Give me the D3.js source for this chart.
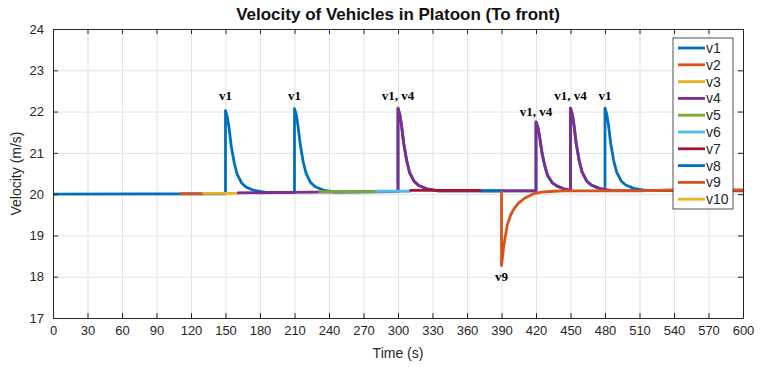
<!DOCTYPE html>
<html>
<head>
<meta charset="utf-8">
<script src="https://cdn.jsdelivr.net/npm/d3@7"></script>
<style>
  body { margin: 0; background: #fff; }
  text { font-family: "Liberation Sans", Arial, sans-serif; }
</style>
</head>
<body>
<div id="chart"></div>
<script>

// vehicles and their colours (matlab default order)
const names = ["v1", "v2", "v3", "v4", "v5", "v6", "v7", "v8", "v9", "v10"];
const colors = ["#0072BD", "#D95319", "#EDB120", "#7E2F8E", "#77AC30",
                "#4DBEEE", "#A2142F", "#0072BD", "#D95319", "#EDB120"];

// [time, velocity]
const v1 = [[0,20.0],[150,20.01],[150,22.02],[151.5,21.88],[153,21.62],[155,21.16],[157.5,20.77],[160,20.49],
  [164,20.27],[168,20.17],[175,20.09],[185,20.04],[210,20.04],[210,22.07],[211.5,21.93],[213,21.66],[215,21.2],
  [217.5,20.79],[220,20.51],[224,20.28],[228,20.18],[235,20.1],[245,20.05],[300,20.06],[300,22.08],[301.5,21.94],
  [303,21.68],[305,21.22],[307.5,20.82],[310,20.53],[314,20.31],[318,20.21],[325,20.13],[335,20.08],[420,20.08],
  [420,21.75],[421.5,21.63],[423,21.42],[425,21.03],[427.5,20.7],[430,20.46],[434,20.28],[438,20.2],[445,20.12],
  [450,20.09],[450,22.08],[451.5,21.94],[453,21.68],[455,21.22],[457.5,20.82],[460,20.54],[464,20.32],[468,20.22],
  [475,20.14],[480,20.1],[480,22.08],[481.5,21.94],[483,21.68],[485,21.22],[487.5,20.82],[490,20.54],[494,20.32],
  [498,20.22],[505,20.14],[515,20.09],[600,20.09]];
const v2 = [[110,20.01],[131,20.01]];
const v3 = [[130,20.02],[160,20.02]];
const v4 = [[160,20.03],[231,20.05],[300,20.06],[300,22.08],[301.5,21.94],[303,21.68],[305,21.22],[307.5,20.82],
  [310,20.53],[314,20.31],[318,20.21],[325,20.13],[335,20.08],[420,20.08],[420,21.75],[421.5,21.63],[423,21.42],
  [425,21.03],[427.5,20.7],[430,20.46],[434,20.28],[438,20.2],[445,20.12],[450,20.09],[450,22.08],[451.5,21.94],
  [453,21.68],[455,21.22],[457.5,20.82],[460,20.54],[464,20.32],[468,20.22],[475,20.14],[485,20.09],[600,20.08]];
const v5 = [[231,20.06],[281,20.06]];
const v6 = [[280,20.07],[311,20.07]];
const v7 = [[310,20.09],[372,20.09]];
const v8 = [[372,20.08],[391,20.08]];
const v9 = [[390,20.08],[390,18.27],[392,18.75],[395,19.25],[398,19.5],[401,19.65],[405,19.79],[410,19.9],
  [418,20.01],[425,20.05],[435,20.07],[445,20.08],[510,20.08],[540,20.1],[600,20.1]];
const v10 = [];
const series = [v1, v2, v3, v4, v5, v6, v7, v8, v9, v10];

// peak annotations [time, velocity, text]
const notes = [[150,22.28,"v1"],[210,22.28,"v1"],[300,22.28,"v1, v4"],[420,21.9,"v1, v4"],
  [450,22.28,"v1, v4"],[480,22.28,"v1"],[390,17.9,"v9"]];

const xTicks = d3.range(0, 601, 30);
const yTicks = [17, 18, 19, 20, 21, 22, 23, 24];

const width = 760;
const height = 367;
const mLeft = 53, mRight = 743, mTop = 29, mBottom = 318;

let svg = d3.select("#chart")
    .append("svg")
    .attr("width", width)
    .attr("height", height);

let x = d3.scaleLinear().domain([0, 600]).range([mLeft, mRight]);
let y = d3.scaleLinear().domain([17, 24]).range([mBottom, mTop]);

// grid
svg.append("g")
    .attr("transform", "translate(0," + mBottom + ")")
    .call(d3.axisBottom(x).tickValues(xTicks).tickSize(-(mBottom - mTop)).tickFormat(""))
    .call(g => g.select(".domain").remove())
    .call(g => g.selectAll("line").attr("stroke", "#e3e3e3"));
svg.append("g")
    .attr("transform", "translate(" + mLeft + ",0)")
    .call(d3.axisLeft(y).tickValues(yTicks).tickSize(-(mRight - mLeft)).tickFormat(""))
    .call(g => g.select(".domain").remove())
    .call(g => g.selectAll("line").attr("stroke", "#e3e3e3"));

// lines
let line = d3.line().x(d => x(d[0])).y(d => y(d[1]));
svg.append("g")
    .selectAll("path")
    .data(series)
    .join("path")
    .attr("d", d => d.length ? line(d) : null)
    .attr("fill", "none")
    .attr("stroke", (d, i) => colors[i])
    .attr("stroke-width", 2.8)
    .attr("stroke-linejoin", "round");

// axes, matlab style ticks inward on all four sides
const axisCol = "#262626";
function styleAxis(g) {
    g.select(".domain").attr("stroke", axisCol);
    g.selectAll(".tick line").attr("stroke", axisCol);
    g.selectAll("text").attr("fill", axisCol).style("font-size", "13px");
}
svg.append("g")
    .attr("transform", "translate(0," + mBottom + ")")
    .call(d3.axisBottom(x).tickValues(xTicks).tickSizeInner(-5).tickSizeOuter(0).tickPadding(8))
    .call(styleAxis);
svg.append("g")
    .attr("transform", "translate(0," + mTop + ")")
    .call(d3.axisTop(x).tickValues(xTicks).tickSizeInner(-5).tickSizeOuter(0).tickFormat(""))
    .call(styleAxis);
svg.append("g")
    .attr("transform", "translate(" + mLeft + ",0)")
    .call(d3.axisLeft(y).tickValues(yTicks).tickFormat(d3.format("d"))
        .tickSizeInner(-5).tickSizeOuter(0).tickPadding(9))
    .call(styleAxis);
svg.append("g")
    .attr("transform", "translate(" + mRight + ",0)")
    .call(d3.axisRight(y).tickValues(yTicks).tickSizeInner(-5).tickSizeOuter(0).tickFormat(""))
    .call(styleAxis);

// annotations
svg.append("g")
    .selectAll("text")
    .data(notes)
    .join("text")
    .attr("x", d => x(d[0]))
    .attr("y", d => y(d[1]))
    .attr("text-anchor", "middle")
    .style("font-family", "'Liberation Serif', 'Times New Roman', serif")
    .style("font-weight", "bold")
    .style("font-size", "13px")
    .text(d => d[2]);

// titles
svg.append("text")
    .attr("x", (mLeft + mRight) / 2)
    .attr("y", 20)
    .attr("text-anchor", "middle")
    .style("font-weight", "bold")
    .style("font-size", "17px")
    .attr("fill", "#111")
    .text("Velocity of Vehicles in Platoon (To front)");
svg.append("text")
    .attr("x", (mLeft + mRight) / 2)
    .attr("y", 358)
    .attr("text-anchor", "middle")
    .style("font-size", "14px")
    .attr("fill", axisCol)
    .text("Time (s)");
svg.append("text")
    .attr("transform", "translate(21," + ((mTop + mBottom) / 2) + ") rotate(-90)")
    .attr("text-anchor", "middle")
    .style("font-size", "14px")
    .attr("fill", axisCol)
    .text("Velocity (m/s)");

// legend
let legend = svg.append("g").attr("transform", "translate(673,38)");
legend.append("rect")
    .attr("width", 60)
    .attr("height", 171)
    .attr("fill", "white")
    .attr("stroke", axisCol)
    .attr("stroke-width", 0.8);
let item = legend.selectAll("g.item")
    .data(names)
    .join("g")
    .attr("class", "item")
    .attr("transform", (d, i) => "translate(0," + (10 + i * 16.8) + ")");
item.append("line")
    .attr("x1", 5).attr("x2", 32)
    .attr("stroke", (d, i) => colors[i])
    .attr("stroke-width", 2.8);
item.append("text")
    .attr("x", 33)
    .attr("dy", "0.35em")
    .style("font-size", "14px")
    .attr("fill", axisCol)
    .text(d => d);

</script>
</body>
</html>
